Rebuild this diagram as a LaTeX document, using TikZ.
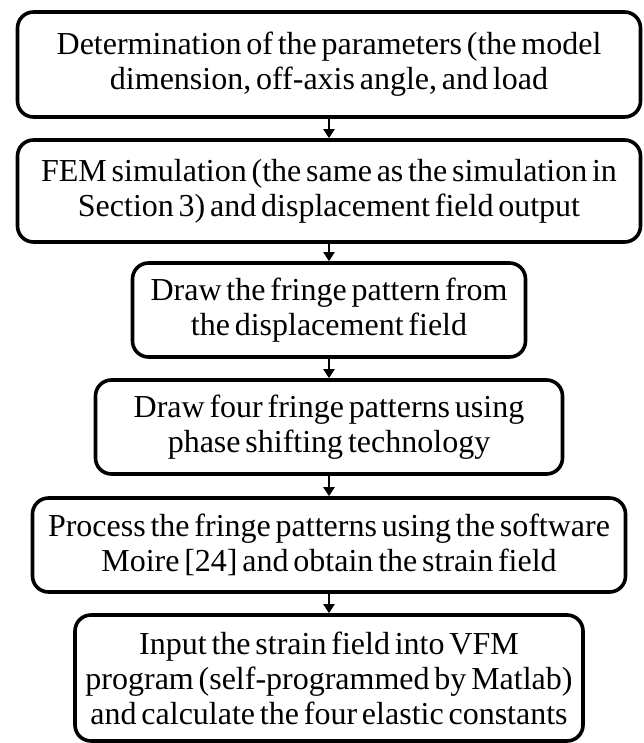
\documentclass[tikz,border=0pt]{standalone}
\usepackage{fontspec}
\setmainfont[WordSpace=0.6]{Liberation Serif}
\usetikzlibrary{arrows.meta}
\begin{document}
\begin{tikzpicture}[x=1pt,y=-1pt,
  stepbox/.style={draw=black,line width=3.6pt,rounded corners=16pt,align=center,
    inner sep=0pt,font=\fontsize{32}{35}\selectfont},
  flow/.style={line width=2pt,-{Triangle[width=11pt,length=9pt]}}]
\useasboundingbox (0,0) rectangle (643,743);
\node[stepbox,minimum width=623pt,minimum height=105pt] (b1) at (329,64.5)
  {Determination of the parameters (the model\\dimension, off-axis angle, and load};
\node[stepbox,minimum width=623pt,minimum height=102pt] (b2) at (329,191)
  {FEM simulation (the same as the simulation in\\Section 3) and displacement field output};
\node[stepbox,minimum width=393pt,minimum height=94pt] (b3) at (329,310)
  {Draw the fringe pattern from\\the displacement field};
\node[stepbox,minimum width=467pt,minimum height=94pt] (b4) at (329,427)
  {Draw four fringe patterns using\\phase shifting technology};
\node[stepbox,minimum width=593pt,minimum height=94pt] (b5) at (329,545)
  {Process the fringe patterns using the software\\Moire [24] and obtain the strain field};
\node[stepbox,minimum width=508pt,minimum height=126pt] (b6) at (329,678)
  {Input the strain field into VFM\\program (self-programmed by Matlab)\\and calculate the four elastic constants};
\draw[flow] (b1) -- (b2);
\draw[flow] (b2) -- (b3);
\draw[flow] (b3) -- (b4);
\draw[flow] (b4) -- (b5);
\draw[flow] (b5) -- (b6);
\end{tikzpicture}
\end{document}
